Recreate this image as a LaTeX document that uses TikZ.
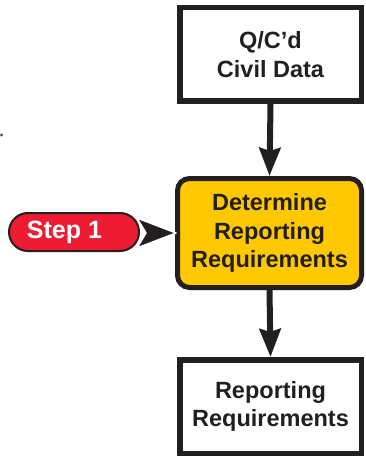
\documentclass[tikz,border=0pt]{standalone}
\usepackage{fontspec}
\setmainfont{Liberation Sans}
\usetikzlibrary{arrows.meta}
\definecolor{ink}{RGB}{35,31,32}
\definecolor{procyellow}{RGB}{255,200,0}
\definecolor{stepred}{RGB}{237,28,50}
\tikzset{
  x=1pt, y=-1pt,
  boxtext/.style={font=\fontsize{23.5}{28.5}\selectfont\bfseries, text=ink, align=center},
  databox/.style={boxtext, draw=ink, line width=5.5pt, fill=white,
    minimum width=181.5pt, minimum height=93.5pt, inner sep=0pt},
  procbox/.style={boxtext, draw=ink, line width=5pt, fill=procyellow,
    rounded corners=12pt, minimum width=184pt, minimum height=109pt, inner sep=0pt},
  steppill/.style={draw=ink, line width=2pt, fill=stepred, rounded corners=19pt,
    minimum width=130pt, minimum height=38pt, inner sep=0pt},
  steptext/.style={font=\fontsize{25}{30}\selectfont\bfseries, text=white},
  flowarrow/.style={draw=ink, line width=6pt,
    -{Stealth[length=28pt, width=21pt, inset=3pt]}},
  stephead/.style={draw=white, line width=1.5pt, fill=ink, line join=round},
}
\begin{document}
\begin{tikzpicture}
  \useasboundingbox (0,0) rectangle (366,457);
  % stray dot at the left edge
  \fill[ink!80] (1.5,135) circle (1.6);
  % flow boxes
  \node[databox] (qc) at (270.5,54.5) {Q/C'd\\Civil Data};
  \node[procbox] (det) at (269.5,233) {Determine\\Reporting\\Requirements};
  \node[databox] (rr) at (270.5,406.5) {Reporting\\Requirements};
  % step marker
  \node[steppill] (step) at (74,232) {};
  \node[steptext] (steplbl) at (64.5,232.5) {Step 1};
  % connectors
  \draw[flowarrow] (qc.south) -- (det.north);
  \draw[flowarrow] (det.south) -- (rr.north);
  % step pointer: a white-edged stealth head ending on the process box
  \filldraw[stephead] ([xshift=1pt]det.west) -- ++(-39,-15) -- ++(9,15)
    -- ++(-9,15) -- cycle;
\end{tikzpicture}
\end{document}
